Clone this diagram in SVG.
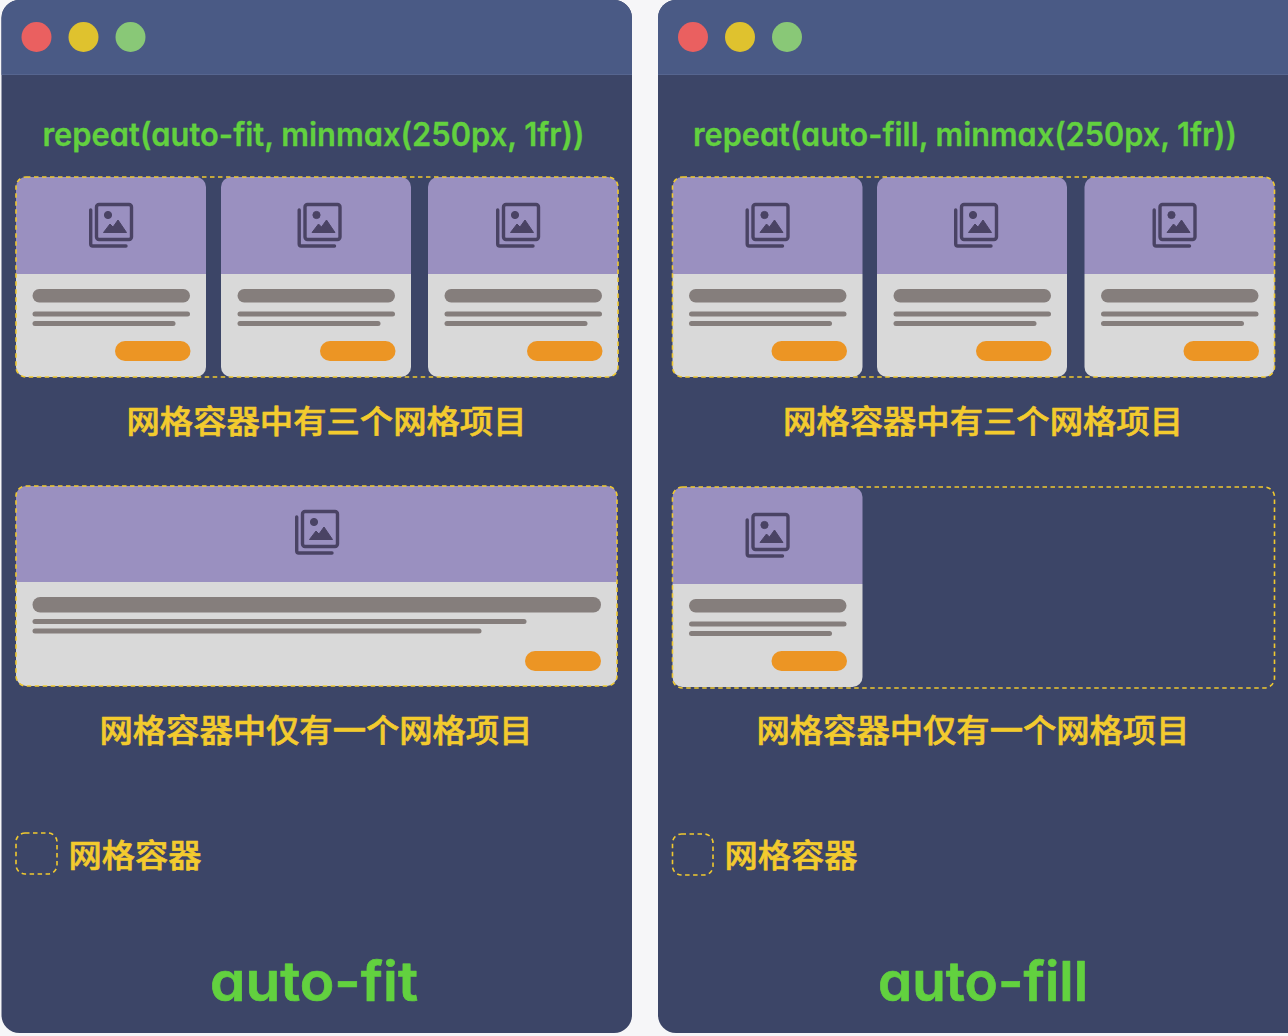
<svg xmlns="http://www.w3.org/2000/svg" width="1288" height="1036" viewBox="0 0 1288 1036">
<style>
.win{fill:#3c4567}.hdr{fill:#4a5a85}.hl{stroke:#56658f;stroke-width:1;fill:none}
.dash{fill:none;stroke:#f0c92f;stroke-width:1.6;stroke-dasharray:4.500 3.500}
.pur{fill:#9a90c0}.gry{fill:#d9d9d9}.bar{fill:#857e7c}.btn{fill:#ec9524}
.ic{fill:none;stroke:#4a4364;stroke-width:3.400}.icf{fill:#4a4364;stroke:#4a4364;stroke-width:1;stroke-linejoin:round}
.cn{font-family:"Noto Sans CJK SC",sans-serif;font-weight:500;fill:#f3cb2e;stroke:#f3cb2e;stroke-width:.6px;stroke-linejoin:round;font-size:32px}
.en{font-family:"Inter","Noto Sans",sans-serif;font-weight:600;fill:#62d13f;stroke:#62d13f;stroke-linejoin:round;font-variant-ligatures:none;font-feature-settings:"cv11" 1,"liga" 0,"calt" 0}
.sub{font-size:32px;stroke-width:.3px}.big{font-size:55px;stroke-width:.7px}
</style>
<defs>
<g id="icon">
<rect x="7.500" y="1.500" width="35" height="35" rx="2.500" class="ic"/>
<path d="M1.700 7V41a2 2 0 0 0 2 2H37" class="ic" stroke-linecap="round"/>
<circle cx="19" cy="12" r="3.600" class="icf"/>
<path d="M14.500 29.500 L21 21 L24 24 L29 17 L37.500 29.500Z" class="icf"/>
</g>
<g id="card">
<path d="M0 97V10a10 10 0 0 1 10-10H180a10 10 0 0 1 10 10V97Z" class="pur"/>
<path d="M0 97H190V190a10 10 0 0 1-10 10H10a10 10 0 0 1-10-10Z" class="gry"/>
<rect x="16.500" y="112" width="157.500" height="13.500" rx="6.700" class="bar"/>
<rect x="16.500" y="134.500" width="157.500" height="5" rx="2.500" class="bar"/>
<rect x="16.500" y="144" width="143" height="5" rx="2.500" class="bar"/>
<rect x="99" y="164" width="75.500" height="20" rx="10" class="btn"/>
</g>
</defs>
<rect width="1288" height="1036" fill="#f6f6f8"/>
<g id="window-auto-fit">
<path d="M1.500 18a18 18 0 0 1 18-18H614a18 18 0 0 1 18 18V1015a18 18 0 0 1-18 18H19.500a18 18 0 0 1-18-18Z" class="win"/>
<path d="M1.500 74V18a18 18 0 0 1 18-18H614a18 18 0 0 1 18 18V74Z" class="hdr"/>
<path d="M1.500 74.500H632" class="hl"/>
<circle cx="36.500" cy="37" r="15" fill="#ea6060"/>
<circle cx="83.500" cy="37" r="15" fill="#dfc22e"/>
<circle cx="130.500" cy="37" r="15" fill="#89c877"/>
<text x="313.500" y="146" text-anchor="middle" class="en sub" textLength="542" lengthAdjust="spacingAndGlyphs">repeat(auto-fit, minmax(250px, 1fr))</text>
</g>
<g id="grid-fit-three">
<use href="#card" x="16" y="177"/>
<use href="#card" x="221" y="177"/>
<use href="#card" x="428" y="177"/>
<rect x="16" y="177" width="602" height="200" rx="10" class="dash"/>
<use href="#icon" x="89" y="203"/>
<use href="#icon" x="297.500" y="203"/>
<use href="#icon" x="496" y="203"/>
<text x="326.500" y="433" text-anchor="middle" class="cn" textLength="400" lengthAdjust="spacingAndGlyphs">网格容器中有三个网格项目</text>
</g>
<g id="grid-fit-one">
<path d="M16 582V496a10 10 0 0 1 10-10H607a10 10 0 0 1 10 10V582Z" class="pur"/>
<path d="M16 582H617V676a10 10 0 0 1-10 10H26a10 10 0 0 1-10-10Z" class="gry"/>
<rect x="16" y="486" width="601" height="200" rx="10" class="dash"/>
<use href="#icon" x="295" y="510"/>
<rect x="32.500" y="597" width="568.500" height="15.500" rx="7.700" class="bar"/>
<rect x="32.500" y="619" width="494" height="5" rx="2.500" class="bar"/>
<rect x="32.500" y="628.500" width="449" height="5" rx="2.500" class="bar"/>
<rect x="525" y="651" width="76" height="20" rx="10" class="btn"/>
<text x="316" y="742" text-anchor="middle" class="cn" textLength="433" lengthAdjust="spacingAndGlyphs">网格容器中仅有一个网格项目</text>
</g>
<g id="legend-fit">
<rect x="16" y="833" width="41" height="41" rx="9" class="dash"/>
<text x="135" y="867" text-anchor="middle" class="cn" textLength="133" lengthAdjust="spacingAndGlyphs">网格容器</text>
</g>
<text id="title-fit" x="314" y="1001" text-anchor="middle" class="en big" textLength="208" lengthAdjust="spacingAndGlyphs">auto-fit</text>
<g id="window-auto-fill">
<path d="M658 18a18 18 0 0 1 18-18H1288V1033H676a18 18 0 0 1-18-18Z" class="win"/>
<path d="M658 74V18a18 18 0 0 1 18-18H1288V74Z" class="hdr"/>
<path d="M658 74.500H1288" class="hl"/>
<circle cx="693" cy="37" r="15" fill="#ea6060"/>
<circle cx="740" cy="37" r="15" fill="#dfc22e"/>
<circle cx="787" cy="37" r="15" fill="#89c877"/>
<text x="965" y="146" text-anchor="middle" class="en sub" textLength="544" lengthAdjust="spacingAndGlyphs">repeat(auto-fill, minmax(250px, 1fr))</text>
</g>
<g id="grid-fill-three">
<use href="#card" x="672.500" y="177"/>
<use href="#card" x="877" y="177"/>
<use href="#card" x="1084.500" y="177"/>
<rect x="672.500" y="177" width="602" height="200" rx="10" class="dash"/>
<use href="#icon" x="745.500" y="203"/>
<use href="#icon" x="954" y="203"/>
<use href="#icon" x="1152.500" y="203"/>
<text x="983" y="433" text-anchor="middle" class="cn" textLength="400" lengthAdjust="spacingAndGlyphs">网格容器中有三个网格项目</text>
</g>
<g id="grid-fill-one">
<use href="#card" x="672.500" y="487"/>
<rect x="672.500" y="487" width="602" height="201" rx="10" class="dash"/>
<use href="#icon" x="745.500" y="513"/>
<text x="973" y="742" text-anchor="middle" class="cn" textLength="433" lengthAdjust="spacingAndGlyphs">网格容器中仅有一个网格项目</text>
</g>
<g id="legend-fill">
<rect x="672.500" y="834" width="40.500" height="41" rx="9" class="dash"/>
<text x="791" y="867" text-anchor="middle" class="cn" textLength="133" lengthAdjust="spacingAndGlyphs">网格容器</text>
</g>
<text id="title-fill" x="983" y="1001" text-anchor="middle" class="en big" textLength="210" lengthAdjust="spacingAndGlyphs">auto-fill</text>
<g id="connectors"/>
</svg>
